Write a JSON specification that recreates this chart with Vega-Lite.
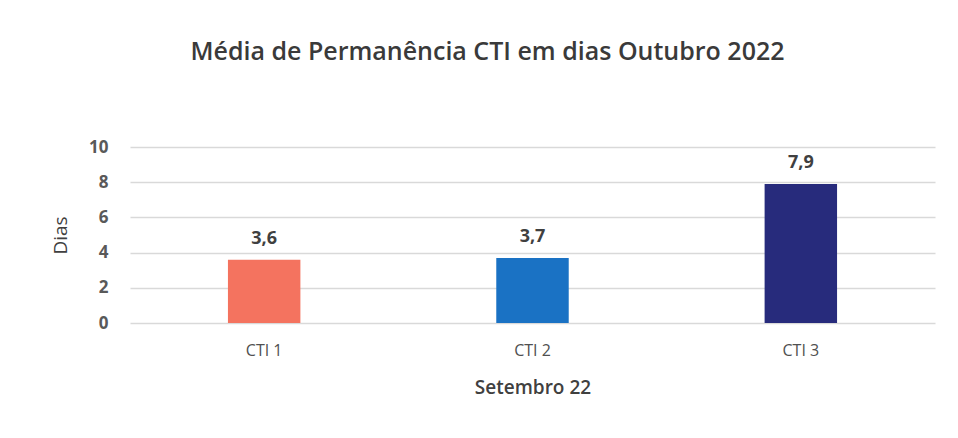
{
  "$schema": "https://vega.github.io/schema/vega-lite/v6.json",
  "width": 805,
  "height": 176,
  "autosize": {"type": "none"},
  "padding": {"left": 130, "top": 147, "right": 23, "bottom": 115},
  "background": "white",
  "config": {
    "font": "Open Sans",
    "view": {"stroke": null},
    "locale": {"number": {"decimal": ",", "thousands": ".", "grouping": [3], "currency": ["R$", ""]}}
  },
  "title": {
    "text": "Média de Permanência CTI em dias Outubro 2022",
    "fontSize": 25,
    "fontWeight": 600,
    "color": "#3a3a3a",
    "font": "Open Sans",
    "anchor": "middle",
    "offset": 73,
    "dx": -45
  },
  "data": {
    "values": [
      {"cti": "CTI 1", "dias": 3.6},
      {"cti": "CTI 2", "dias": 3.7},
      {"cti": "CTI 3", "dias": 7.9}
    ]
  },
  "encoding": {
    "x": {
      "field": "cti",
      "type": "nominal",
      "sort": null,
      "scale": {"paddingInner": 0, "paddingOuter": 0},
      "axis": {
        "title": "Setembro 22",
        "titleFontSize": 19,
        "titleFontWeight": 600,
        "titleColor": "#404040",
        "titlePadding": 20,
        "labelFontSize": 16,
        "labelColor": "#505050",
        "labelAngle": 0,
        "labelPadding": 19,
        "ticks": false,
        "domain": false
      }
    },
    "y": {
      "field": "dias",
      "type": "quantitative",
      "scale": {"domain": [0, 10], "nice": false},
      "axis": {
        "title": "Dias",
        "titleFontSize": 19,
        "titleFontWeight": "normal",
        "titleColor": "#404040",
        "titlePadding": 18,
        "values": [0, 2, 4, 6, 8, 10],
        "labelFontSize": 17,
        "labelFontWeight": "bold",
        "labelColor": "#595959",
        "labelPadding": 22,
        "ticks": false,
        "domain": false,
        "gridColor": "#d9d9d9",
        "gridWidth": 1.5
      }
    }
  },
  "layer": [
    {
      "mark": {"type": "bar", "width": {"band": 0.27}},
      "encoding": {
        "color": {
          "field": "cti",
          "type": "nominal",
          "scale": {"domain": ["CTI 1", "CTI 2", "CTI 3"], "range": ["#f4735f", "#1a72c4", "#272b7c"]},
          "legend": null
        }
      }
    },
    {
      "mark": {"type": "text", "dy": -21, "fontSize": 18, "fontWeight": "bold", "color": "#404040"},
      "encoding": {
        "text": {"field": "dias", "type": "quantitative", "format": ".1f"}
      }
    }
  ]
}
